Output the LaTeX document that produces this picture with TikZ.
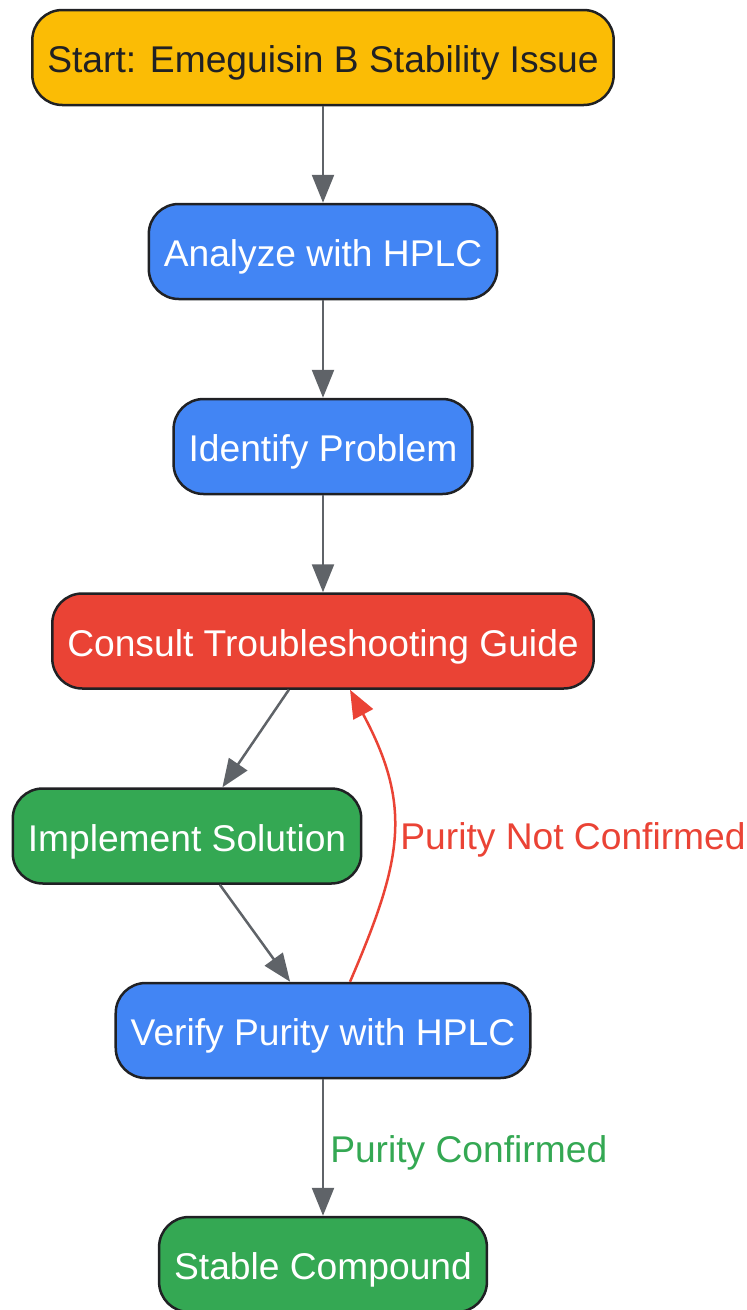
\documentclass[tikz,border=0pt]{standalone}
\usepackage{fontspec}
\setmainfont{Liberation Sans}
\usetikzlibrary{arrows.meta}

\definecolor{startyellow}{HTML}{FBBC05}
\definecolor{stepblue}{HTML}{4285F4}
\definecolor{stepred}{HTML}{EA4335}
\definecolor{stepgreen}{HTML}{34A853}
\definecolor{edgegray}{HTML}{5F6368}
\definecolor{borderdark}{HTML}{202124}

\begin{document}
\begin{tikzpicture}[x=1pt,y=-1pt,
        box/.style={draw=borderdark, line width=2.5pt, rounded corners=30pt,
            minimum height=95pt, inner xsep=15pt, text=white,
            text height=30pt, text depth=0pt,
            font=\fontsize{37.2}{44}\selectfont},
        flow/.style={draw=edgegray, line width=2.5pt,
            -{Triangle[length=28pt,width=22pt]}},
        edgelabel/.style={font=\fontsize{37.2}{44}\selectfont, inner xsep=6pt,
            text height=30pt, text depth=0pt}]
        \useasboundingbox (0,0) rectangle (747,1310);
        % nodes
        \node[box, fill=startyellow, text=borderdark] (start) at (323,57.5) {Start: Emeguisin B Stability Issue};
        \node[box, fill=stepblue] (analyze) at (323,251.5) {Analyze with HPLC};
        \node[box, fill=stepblue] (identify) at (323,446.5) {Identify Problem};
        \node[box, fill=stepred] (consult) at (323,641) {Consult Troubleshooting Guide};
        \node[box, fill=stepgreen] (implement) at (187,836) {Implement Solution};
        \node[box, fill=stepblue] (verify) at (323,1030.5) {Verify Purity with HPLC};
        \node[box, fill=stepgreen] (stable) at (323,1264.5) {Stable Compound};
        % edges
        \draw[flow] (start) -- (analyze);
        \draw[flow] (analyze) -- (identify);
        \draw[flow] (identify) -- (consult);
        \draw[flow] (consult.235) -- (implement.54);
        \draw[flow] (implement.304.5) -- (verify.124.8);
        \draw[flow, draw=stepred, -{Triangle[length=28pt,width=22pt,fill=stepred]}]
            (verify.61.3) .. controls (402,861) and (413,807) .. (consult.299.4)
            node[pos=0.5, anchor=west, edgelabel, text=stepred] {Purity Not Confirmed};
        \draw[flow] (verify) -- (stable)
            node[midway, anchor=west, edgelabel, text=stepgreen] {Purity Confirmed};
    \end{tikzpicture}
\end{document}
